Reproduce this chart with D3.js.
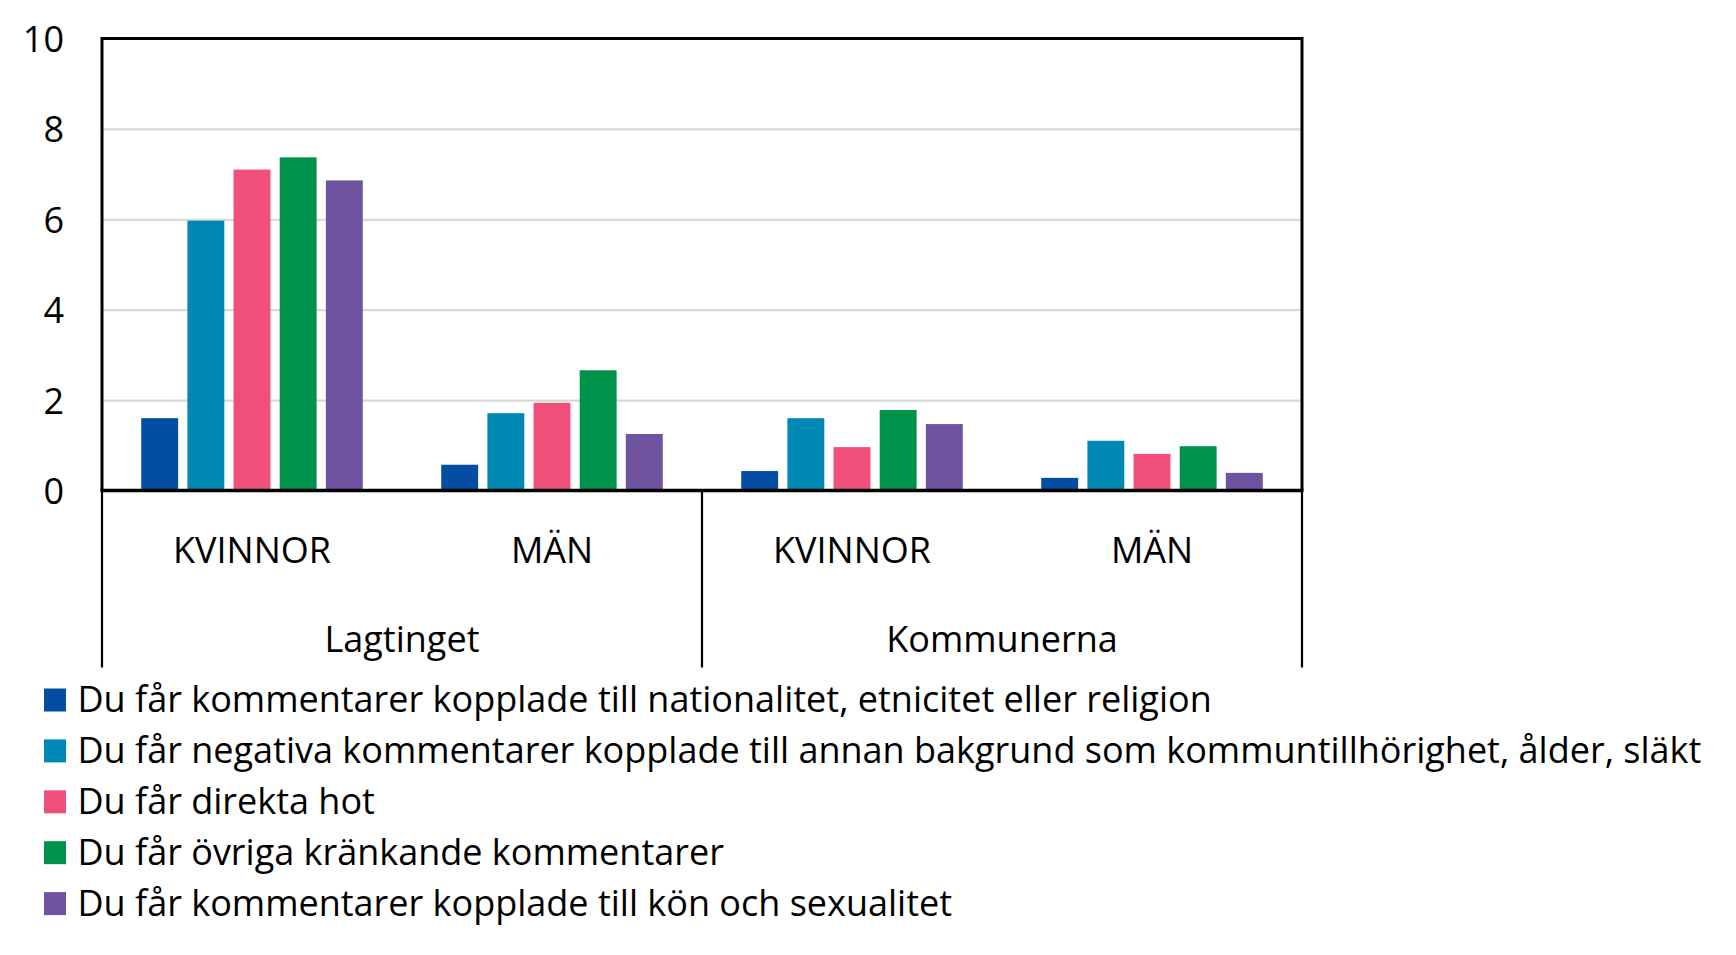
<!DOCTYPE html>
<html>
<head>
<meta charset="utf-8">
<script src="https://cdn.jsdelivr.net/npm/d3@7"></script>
<style>
  body { margin: 0; background: #FFFFFF; }
  text { font-family: 'Open Sans', 'Noto Sans', sans-serif; fill: #000000; }
</style>
</head>
<body>
<div id="chart"></div>
<script>
// data
const groups = ['Lagtinget', 'Kommunerna'];
const categories = ['KVINNOR', 'MÄN'];
const series = [
  'Du får kommentarer kopplade till nationalitet, etnicitet eller religion',
  'Du får negativa kommentarer kopplade till annan bakgrund som kommuntillhörighet, ålder, släkt',
  'Du får direkta hot',
  'Du får övriga kränkande kommentarer',
  'Du får kommentarer kopplade till kön och sexualitet'
];
// one array per series: Lagtinget KVINNOR, Lagtinget MÄN, Kommunerna KVINNOR, Kommunerna MÄN
const nationalitet = [1.6, 0.57, 0.43, 0.28];
const bakgrund = [5.97, 1.71, 1.6, 1.1];
const hot = [7.1, 1.94, 0.96, 0.81];
const ovriga = [7.37, 2.66, 1.78, 0.98];
const konSexualitet = [6.86, 1.25, 1.47, 0.39];
const yTicks = [0, 2, 4, 6, 8, 10];

const colors = ['#034EA2', '#0088B5', '#EF4F78', '#00924B', '#7053A0'];
const values = [nationalitet, bakgrund, hot, ovriga, konSexualitet];

// category keys, e.g. "Lagtinget|KVINNOR"
const keys = groups.flatMap((g) => categories.map((c) => g + '|' + c));
const rows = keys.map((key, i) => ({
  key,
  group: key.split('|')[0],
  cat: key.split('|')[1],
  vals: series.map((s, j) => ({ series: s, value: values[j][i], color: colors[j] }))
}));

const W = 1736, H = 955;
const plot = { left: 102, right: 1302, top: 38.5, bottom: 490.5 };
const fontSize = 36;

const svg = d3
  .select('#chart')
  .append('svg')
  .attr('width', W)
  .attr('height', H)
  .style('background-color', '#FFFFFF');

const x0 = d3.scaleBand().domain(keys).range([plot.left, plot.right]);
const x1 = d3
  .scaleBand()
  .domain(series)
  .range([0, x0.bandwidth()])
  .paddingInner(0.2)
  .paddingOuter(0.85);
const y = d3.scaleLinear().domain([0, 10]).range([plot.bottom, plot.top]);

// gridlines
svg
  .append('g')
  .call(
    d3
      .axisLeft(y)
      .tickValues(yTicks.filter((t) => t > 0 && t < 10))
      .tickSize(-(plot.right - plot.left))
      .tickFormat('')
  )
  .attr('transform', `translate(${plot.left},0)`)
  .call((g) => g.select('.domain').remove())
  .selectAll('line')
  .attr('stroke', '#D9D9D9')
  .attr('stroke-width', 2.2);

// y tick labels
svg
  .append('g')
  .attr('transform', `translate(${plot.left},0)`)
  .call(d3.axisLeft(y).tickValues(yTicks).tickSize(0).tickPadding(38))
  .call((g) => g.select('.domain').remove())
  .selectAll('text')
  .style('font-size', fontSize + 'px')
  .attr('dy', '0.36em');

// bars
svg
  .append('g')
  .selectAll('g')
  .data(rows)
  .join('g')
  .attr('transform', (d) => `translate(${x0(d.key)},0)`)
  .selectAll('rect')
  .data((d) => d.vals)
  .join('rect')
  .attr('x', (d) => x1(d.series))
  .attr('y', (d) => y(d.value))
  .attr('width', x1.bandwidth())
  .attr('height', (d) => y(0) - y(d.value))
  .attr('fill', (d) => d.color);

// frame: top, left, right
const frame = svg.append('g').attr('stroke', '#000000').attr('fill', 'none');
frame
  .append('path')
  .attr('stroke-width', 3)
  .attr('d', `M${plot.left},${y(0)}V${y(10)}H${plot.right}V${y(0)}`);

// category axis below zero
const catBottom = 667.5;
const xg = d3
  .scaleBand()
  .domain(groups)
  .range([plot.left, plot.right]);
frame
  .selectAll('line.div')
  .data(d3.range(groups.length + 1))
  .join('line')
  .attr('x1', (i) => plot.left + i * xg.bandwidth())
  .attr('x2', (i) => plot.left + i * xg.bandwidth())
  .attr('y1', y(0))
  .attr('y2', catBottom)
  .attr('stroke-width', 2.2);
frame
  .append('line')
  .attr('x1', plot.left - 1.5)
  .attr('x2', plot.right + 1.5)
  .attr('y1', y(0))
  .attr('y2', y(0))
  .attr('stroke-width', 3.4);

svg
  .append('g')
  .attr('text-anchor', 'middle')
  .style('font-size', fontSize + 'px')
  .selectAll('text')
  .data(rows)
  .join('text')
  .attr('x', (d) => x0(d.key) + x0.bandwidth() / 2)
  .attr('y', 563)
  .text((d) => d.cat);

svg
  .append('g')
  .attr('text-anchor', 'middle')
  .style('font-size', fontSize + 'px')
  .selectAll('text')
  .data(groups)
  .join('text')
  .attr('x', (d) => xg(d) + xg.bandwidth() / 2)
  .attr('y', 652)
  .text((d) => d);

// legend
const legend = svg
  .append('g')
  .selectAll('g')
  .data(series)
  .join('g')
  .attr('transform', (d, i) => `translate(44,${700 + i * 50.9})`);
legend
  .append('rect')
  .attr('x', 0)
  .attr('y', -11.5)
  .attr('width', 22)
  .attr('height', 23)
  .attr('fill', (d, i) => colors[i]);
legend
  .append('text')
  .attr('x', 33.5)
  .attr('y', 12)
  .style('font-size', fontSize + 'px')
  .text((d) => d);
</script>
</body>
</html>
